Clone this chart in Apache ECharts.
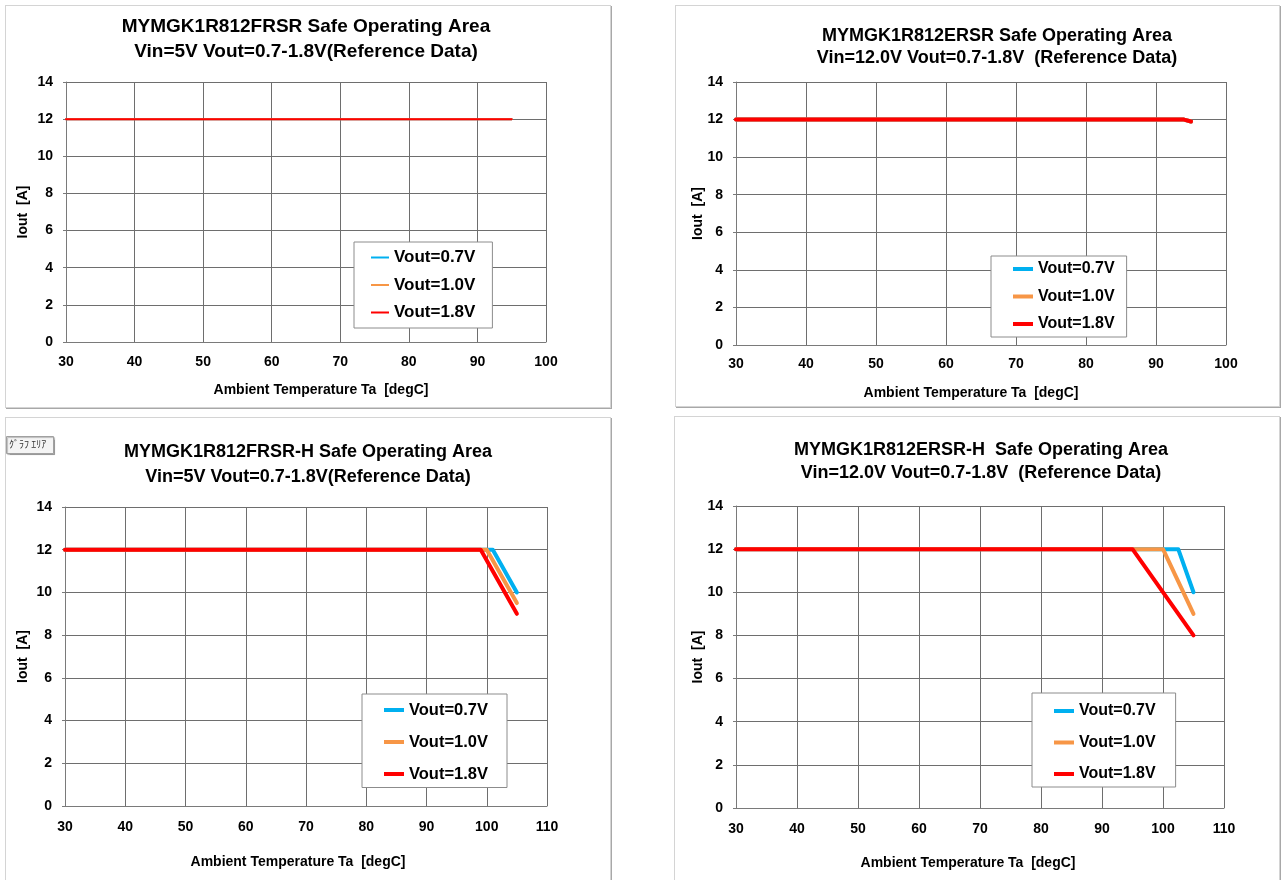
<!DOCTYPE html>
<html>
<head>
<meta charset="utf-8">
<script src="https://cdn.jsdelivr.net/npm/echarts@6/dist/echarts.min.js"></script>
<style>
  html, body { margin: 0; padding: 0; background: #fff; width: 1282px; height: 880px; overflow: hidden; }
  .panel { position: absolute; box-sizing: border-box; border: 1px solid #d4d4d4; box-shadow: 1px 1px 0 #a8a8a8; background: #fff; }
  .chart { position: absolute; left: 0; top: 0; right: 0; bottom: 0; }
</style>
</head>
<body>
<div class="panel" style="left:5px;top:5px;width:606px;height:403px;"><div id="c1" class="chart"></div></div>
<div class="panel" style="left:675px;top:5px;width:605px;height:402px;"><div id="c2" class="chart"></div></div>
<div class="panel" style="left:5px;top:417px;width:606px;height:470px;"><div id="c3" class="chart"></div></div>
<div class="panel" style="left:674px;top:416px;width:606px;height:470px;"><div id="c4" class="chart"></div></div>
<script>
// ---------------- DATA ----------------
const legendNames = ['Vout=0.7V', 'Vout=1.0V', 'Vout=1.8V'];
const xAxisName = 'Ambient Temperature Ta  [degC]';
const yAxisName = 'Iout  [A]';

// Panel 1: MYMGK1R812FRSR, Vin=5V
const p1Title = 'MYMGK1R812FRSR Safe Operating Area\nVin=5V Vout=0.7-1.8V(Reference Data)';
const p1_v07_t = [30, 95];  const p1_v07_i = [12, 12];
const p1_v10_t = [30, 95];  const p1_v10_i = [12, 12];
const p1_v18_t = [30, 95];  const p1_v18_i = [12, 12];

// Panel 2: MYMGK1R812ERSR, Vin=12V
const p2Title = 'MYMGK1R812ERSR Safe Operating Area\nVin=12.0V Vout=0.7-1.8V  (Reference Data)';
const p2_v07_t = [30, 94, 95];  const p2_v07_i = [12, 12, 11.9];
const p2_v10_t = [30, 94, 95];  const p2_v10_i = [12, 12, 11.9];
const p2_v18_t = [30, 94, 95];  const p2_v18_i = [12, 12, 11.9];

// Panel 3: MYMGK1R812FRSR-H, Vin=5V
const p3Title = 'MYMGK1R812FRSR-H Safe Operating Area\nVin=5V Vout=0.7-1.8V(Reference Data)';
const p3_v07_t = [30, 101, 105];  const p3_v07_i = [12, 12, 10];
const p3_v10_t = [30, 100, 105];  const p3_v10_i = [12, 12, 9.5];
const p3_v18_t = [30, 99, 105];   const p3_v18_i = [12, 12, 9];

// Panel 4: MYMGK1R812ERSR-H, Vin=12V
const p4Title = 'MYMGK1R812ERSR-H  Safe Operating Area\nVin=12.0V Vout=0.7-1.8V  (Reference Data)';
const p4_v07_t = [30, 102.5, 105];  const p4_v07_i = [12, 12, 10];
const p4_v10_t = [30, 100, 105];    const p4_v10_i = [12, 12, 9];
const p4_v18_t = [30, 95, 105];     const p4_v18_i = [12, 12, 8];

const colors = ['#00B0F0', '#F79646', '#FF0000'];

// ---------------- BUILD ----------------
const FONT = 'Liberation Sans, Arial, sans-serif';
function pairs(t, v) { return t.map((x, i) => [x, v[i]]); }

function makeOption(cfg) {
  const seriesData = cfg.s.map(s => pairs(s[0], s[1]));
  return {
    animation: false,
    backgroundColor: '#fff',
    title: {
      text: cfg.title,
      left: cfg.titleX, top: cfg.titleTop, textAlign: 'center', padding: 0,
      textStyle: { fontFamily: FONT, fontWeight: 'bold', fontSize: cfg.titleFS, color: '#000', lineHeight: cfg.titleLH }
    },
    grid: { left: cfg.grid[0], top: cfg.grid[1], width: cfg.grid[2], height: cfg.grid[3], containLabel: false, outerBoundsMode: 'none' },
    xAxis: {
      type: 'value', min: 30, max: cfg.xMax, interval: 10,
      name: xAxisName, nameLocation: 'middle', nameGap: cfg.xNameGap, nameMoveOverlap: false,
      nameTextStyle: { fontFamily: FONT, fontWeight: 'bold', fontSize: 14, color: '#000', padding: cfg.xNamePad },
      axisLine: { lineStyle: { color: '#7a7a7a', width: 1 } },
      axisTick: { show: false },
      axisLabel: { margin: cfg.xLabelMargin, fontFamily: FONT, fontWeight: 'bold', fontSize: 14, color: '#000' },
      splitLine: { show: true, lineStyle: { color: '#6e6e6e', width: 1 } }
    },
    yAxis: {
      type: 'value', min: 0, max: 14, interval: 2,
      name: yAxisName, nameLocation: 'middle', nameGap: cfg.yNameGap, nameRotate: 90, nameMoveOverlap: false,
      nameTextStyle: { fontFamily: FONT, fontWeight: 'bold', fontSize: 14, color: '#000' },
      axisLine: { show: true, lineStyle: { color: '#7a7a7a', width: 1 } },
      axisTick: { show: true, length: 3, lineStyle: { color: '#7a7a7a' } },
      axisLabel: { margin: 13, fontFamily: FONT, fontWeight: 'bold', fontSize: 14, color: '#000' },
      splitLine: { show: true, lineStyle: { color: '#6e6e6e', width: 1 } }
    },
    legend: {
      data: legendNames,
      icon: 'rect',
      orient: 'vertical', left: cfg.legend.left, top: cfg.legend.top,
      padding: cfg.legend.padding, itemGap: cfg.legend.gap,
      itemWidth: cfg.legend.iw, itemHeight: cfg.lw,
      backgroundColor: '#fff', borderColor: '#8c8c8c', borderWidth: 1, borderRadius: 0,
      textStyle: { fontFamily: FONT, fontWeight: 'bold', fontSize: cfg.legend.fs, color: '#000' }
    },
    graphic: cfg.graphic || [],
    series: legendNames.map((n, i) => ({
      name: n, type: 'line', data: seriesData[i],
      symbol: 'none', showSymbol: false, z: 2 + i,
      lineStyle: { color: colors[i], width: cfg.lw, cap: 'round', join: 'round' },
      itemStyle: { color: colors[i] },
      emphasis: { disabled: true }
    }))
  };
}

const cfgs = [
  { id: 'c1', title: p1Title, titleX: 300, titleTop: 8, titleLH: 25, titleFS: 19,
    grid: [60, 76, 480, 260], xMax: 100, xNameGap: 41, xNamePad: [0, 0, 0, 30], xLabelMargin: 13, yNameGap: 36, lw: 2,
    legend: { left: 348, top: 236, padding: [7, 17, 7, 17], gap: 10.5, iw: 18, fs: 17 },
    s: [[p1_v07_t, p1_v07_i], [p1_v10_t, p1_v10_i], [p1_v18_t, p1_v18_i]] },
  { id: 'c2', title: p2Title, titleX: 321, titleTop: 19, titleLH: 22, titleFS: 18,
    grid: [60, 76, 490, 263], xMax: 100, xNameGap: 41, xNamePad: [0, 20, 0, 0], xLabelMargin: 12, yNameGap: 31, lw: 4,
    legend: { left: 315, top: 250, padding: [5, 12, 5, 22], gap: 11.5, iw: 20, fs: 16 },
    s: [[p2_v07_t, p2_v07_i], [p2_v10_t, p2_v10_i], [p2_v18_t, p2_v18_i]] },
  { id: 'c3', title: p3Title, titleX: 302, titleTop: 21.5, titleLH: 25, titleFS: 18,
    grid: [59, 89, 482, 299], xMax: 110, xNameGap: 49, xNamePad: [0, 16, 0, 0], xLabelMargin: 14, yNameGap: 35, lw: 4,
    legend: { left: 356, top: 276, padding: [7.5, 19, 5, 22], gap: 15, iw: 20, fs: 16.5 },
    graphic: [
      { type: 'rect', left: 0, top: 18, shape: { width: 47, height: 17 },
        style: { fill: '#f4f4f4', stroke: '#a0a0a0', lineWidth: 1, shadowColor: 'rgba(0,0,0,0.25)', shadowOffsetX: 1, shadowOffsetY: 1, shadowBlur: 1 } },
      { type: 'text', left: 3, top: 21,
        style: { text: 'ｸﾞﾗﾌ ｴﾘｱ', font: '10px "Noto Sans CJK JP", sans-serif', fill: '#333' } }
    ],
    s: [[p3_v07_t, p3_v07_i], [p3_v10_t, p3_v10_i], [p3_v18_t, p3_v18_i]] },
  { id: 'c4', title: p4Title, titleX: 306, titleTop: 21.5, titleLH: 23, titleFS: 18,
    grid: [61, 89, 488, 302], xMax: 110, xNameGap: 48, xNamePad: [0, 24, 0, 0], xLabelMargin: 14, yNameGap: 31, lw: 4,
    legend: { left: 357, top: 276, padding: [10, 20, 5, 22], gap: 15.5, iw: 20, fs: 16 },
    s: [[p4_v07_t, p4_v07_i], [p4_v10_t, p4_v10_i], [p4_v18_t, p4_v18_i]] }
];

cfgs.forEach(cfg => {
  const chart = echarts.init(document.getElementById(cfg.id), null, { renderer: 'canvas' });
  chart.setOption(makeOption(cfg));
});
</script>
</body>
</html>
